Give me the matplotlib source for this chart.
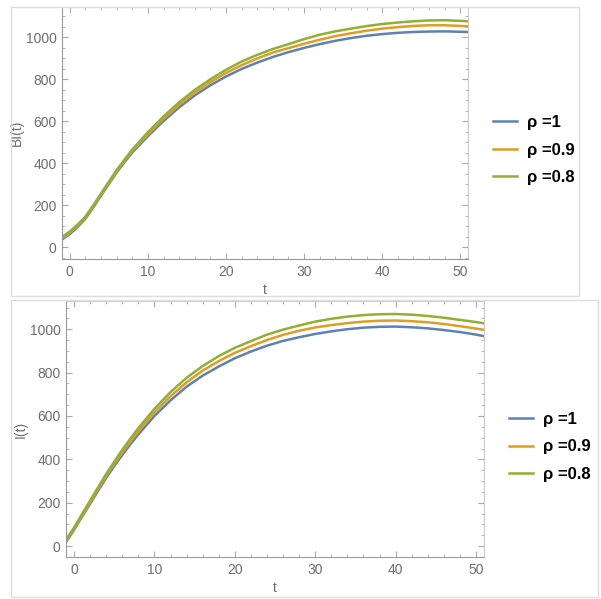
import matplotlib.pyplot as plt
from matplotlib.patches import Rectangle
from matplotlib.ticker import MultipleLocator

# ======================================================
# DATA
# ======================================================
t = [-1, 0, 1, 2, 3, 4, 5, 6, 7, 8, 10, 12, 14, 16, 18, 20, 22, 24, 26, 28,
     30, 32, 34, 36, 38, 40, 42, 44, 46, 48, 50, 51]

bi_rho_1 = [36, 62, 95, 135, 188, 245, 300, 355, 404, 450, 528, 600, 665, 722, 770, 812,
            848, 878, 905, 928, 948, 966, 982, 995, 1006, 1014, 1020, 1024, 1026, 1027, 1025, 1024]
bi_rho_09 = [42, 68, 101, 140, 193, 250, 305, 361, 410, 457, 537, 611, 677, 735, 785, 829,
             866, 898, 926, 947, 968, 987, 1004, 1018, 1030, 1040, 1047, 1053, 1056, 1056, 1053, 1051]
bi_rho_08 = [48, 74, 107, 145, 198, 255, 311, 367, 416, 464, 547, 622, 689, 748, 799, 844,
             883, 915, 943, 966, 990, 1011, 1027, 1040, 1052, 1062, 1069, 1075, 1079, 1080, 1077, 1075]

i_rho_1 = [18, 75, 136, 195, 256, 315, 369, 420, 469, 515, 600, 672, 735, 786, 828, 866,
           897, 924, 946, 963, 978, 990, 1000, 1007, 1011, 1012, 1009, 1004, 996, 987, 975, 968]
i_rho_09 = [22, 80, 141, 202, 264, 324, 379, 432, 482, 530, 617, 691, 755, 809, 853, 891,
            922, 950, 974, 993, 1008, 1019, 1028, 1035, 1039, 1040, 1037, 1032, 1024, 1014, 1003, 997]
i_rho_08 = [28, 86, 148, 210, 272, 333, 389, 444, 495, 544, 633, 710, 776, 830, 876, 914,
            945, 975, 998, 1017, 1035, 1048, 1058, 1065, 1069, 1070, 1067, 1061, 1053, 1043, 1033, 1027]

labels = ["ρ =1", "ρ =0.9", "ρ =0.8"]
colors = ["#5E81B5", "#E19C24", "#8FB032"]

# ======================================================
# FIGURE
# ======================================================
plt.rcParams["font.family"] = ["Liberation Sans", "DejaVu Sans"]
W, H = 601, 599
fig = plt.figure(figsize=(W / 100, H / 100), dpi=100)

# light frames around each panel
fig.add_artist(Rectangle((11 / W, (H - 296) / H), 568 / W, 289 / H,
                         transform=fig.transFigure, fill=False,
                         edgecolor="#dddddd", lw=1))
fig.add_artist(Rectangle((11 / W, 2 / H), 587 / W, 297 / H,
                         transform=fig.transFigure, fill=False,
                         edgecolor="#dddddd", lw=1))

ax1 = fig.add_axes([62 / W, (H - 259) / H, 406 / W, 252 / H])
ax2 = fig.add_axes([66 / W, (H - 557) / H, 418 / W, 256 / H])

panels = [
    (ax1, [bi_rho_1, bi_rho_09, bi_rho_08], "BI(t)", (-57, 1143), 493, 150),
    (ax2, [i_rho_1, i_rho_09, i_rho_08], "I(t)", (-50, 1130), 509, 447),
]

for ax, series, ylab, ylim, leg_x, leg_y in panels:
    lines = []
    for ys, c, lab in zip(series, colors, labels):
        ln, = ax.plot(t, ys, color=c, lw=1.8, label=lab)
        lines.append(ln)
    ax.set_xlim(-1, 51)
    ax.set_ylim(*ylim)
    ax.xaxis.set_major_locator(MultipleLocator(10))
    ax.xaxis.set_minor_locator(MultipleLocator(2))
    ax.yaxis.set_major_locator(MultipleLocator(200))
    ax.yaxis.set_minor_locator(MultipleLocator(50))
    ax.tick_params(which="both", direction="in", top=True, right=True,
                   color="#aaaaaa", labelcolor="#6e6e6e", labelsize=10)
    ax.tick_params(which="major", length=4, pad=4)
    ax.tick_params(which="minor", length=2)
    ax.tick_params(labeltop=False, labelright=False)
    for side in ["left", "bottom"]:
        ax.spines[side].set_color("#999999")
    for side in ["top", "right"]:
        ax.spines[side].set_color("#cccccc")
    ax.set_xlabel("t", color="#6e6e6e", fontsize=10, labelpad=3)
    ax.set_ylabel(ylab, color="#6e6e6e", fontsize=10, labelpad=1)

    fig.legend(handles=lines, loc="center left",
               bbox_to_anchor=(leg_x / W, (H - leg_y) / H),
               frameon=False, borderpad=0, borderaxespad=0,
               handlelength=1.45, handletextpad=0.6, labelspacing=0.75,
               prop={"weight": "bold", "size": 12})

plt.savefig("out.png", dpi=100)
plt.close()
